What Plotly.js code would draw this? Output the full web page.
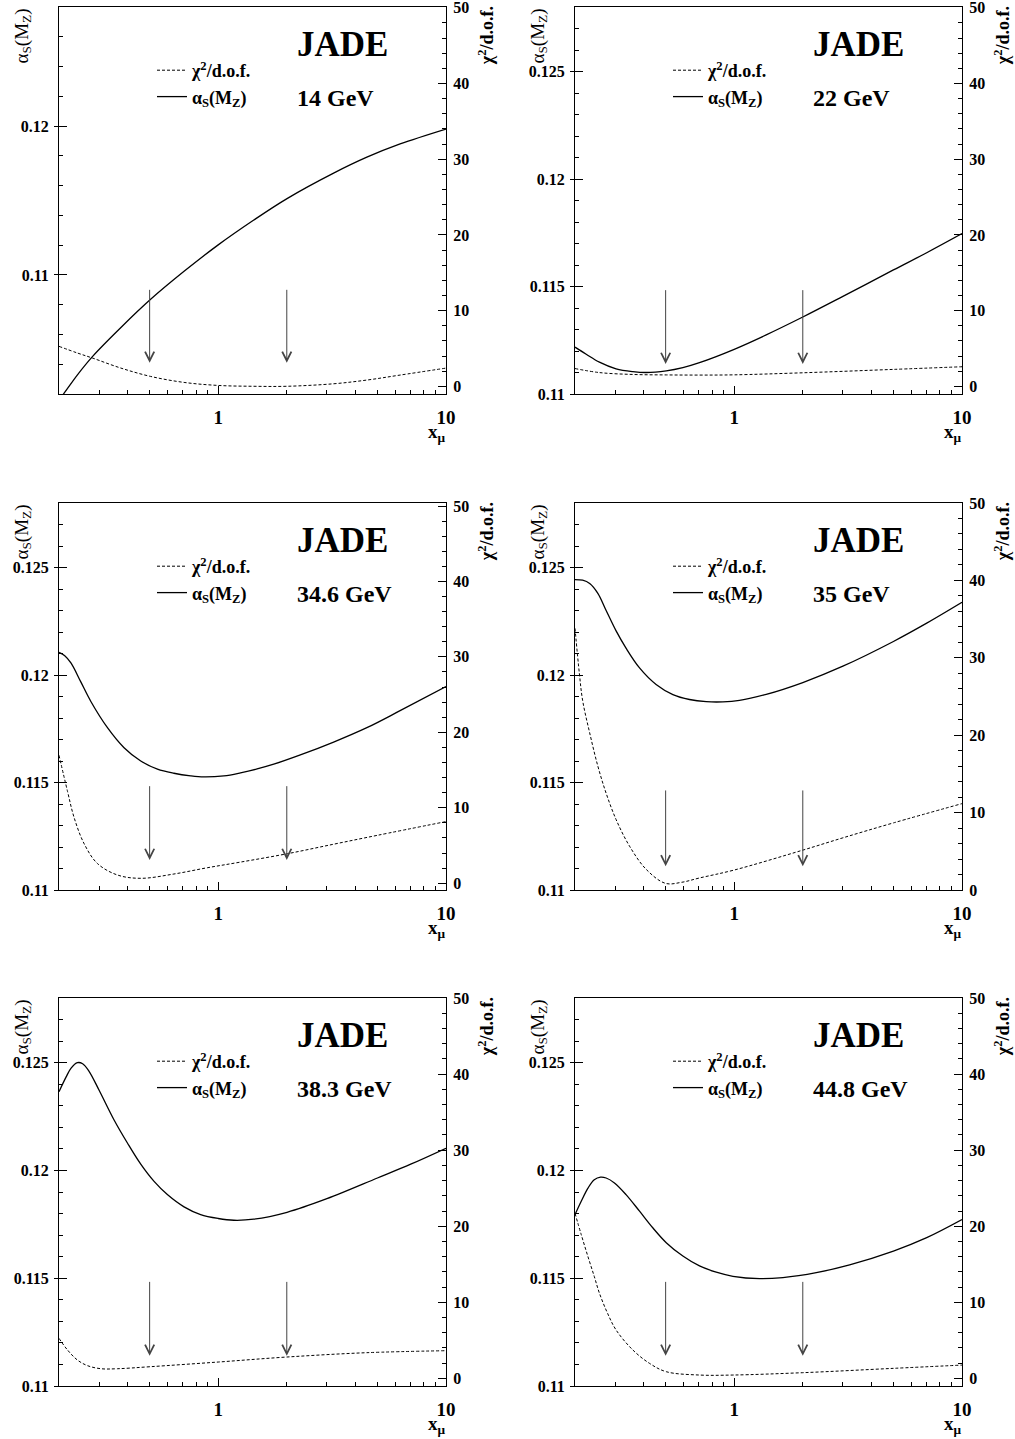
<!DOCTYPE html>
<html><head><meta charset="utf-8">
<script src="https://cdn.plot.ly/plotly-3.0.1.min.js"></script>
<style>html,body{margin:0;padding:0;background:#fff}#chart{width:1015px;height:1439px}</style>
</head><body><div id="chart"></div>
<script>
// ---------------- data ----------------
const energyLabels = ['14 GeV', '22 GeV', '34.6 GeV', '35 GeV', '38.3 GeV', '44.8 GeV'];

// alpha_s(M_Z) vs x_mu (solid curves)
const asX1 = [0.2, 0.211, 0.241, 0.281, 0.374, 0.505, 0.708, 1, 1.433, 2.005, 3.211, 4.494, 6.288, 10];
const asY1 = [0.10158, 0.10207, 0.10329, 0.10453, 0.10647, 0.10836, 0.11024, 0.11202, 0.11369, 0.11513, 0.11684, 0.11791, 0.11880, 0.11980];
const asX2 = [0.2, 0.224, 0.256, 0.303, 0.359, 0.411, 0.503, 0.595, 0.704, 1, 1.382, 2, 3, 5, 7, 10];
const asY2 = [0.11218, 0.11185, 0.11148, 0.11117, 0.11104, 0.11100, 0.11108, 0.11123, 0.11146, 0.11208, 0.11275, 0.11358, 0.11454, 0.11577, 0.11657, 0.11746];
const asX3 = [0.2, 0.212, 0.226, 0.249, 0.276, 0.327, 0.386, 0.457, 0.541, 0.639, 0.757, 0.865, 1.059, 1.253, 1.482, 1.753, 2.294, 3.211, 4.494, 6.288, 10];
const asY3 = [0.12105, 0.12090, 0.12055, 0.11969, 0.11877, 0.11754, 0.11662, 0.11600, 0.11562, 0.11543, 0.11531, 0.11526, 0.11531, 0.11545, 0.11563, 0.11585, 0.11628, 0.11688, 0.11755, 0.11834, 0.11946];
const asX4 = [0.2, 0.216, 0.232, 0.252, 0.274, 0.303, 0.335, 0.384, 0.454, 0.538, 0.636, 0.754, 0.892, 1.055, 1.382, 2, 3, 5, 7, 10];
const asY4 = [0.12444, 0.12441, 0.12426, 0.12380, 0.12300, 0.12205, 0.12125, 0.12033, 0.11956, 0.11909, 0.11886, 0.11876, 0.11875, 0.11882, 0.11910, 0.11965, 0.12041, 0.12156, 0.12241, 0.12338];
const asX5 = [0.2, 0.215, 0.226, 0.241, 0.254, 0.271, 0.300, 0.349, 0.400, 0.457, 0.523, 0.598, 0.708, 0.837, 1, 1.171, 1.433, 2.005, 3, 5, 7, 10];
const asY5 = [0.12365, 0.12434, 0.12475, 0.12500, 0.12495, 0.12460, 0.12372, 0.12234, 0.12126, 0.12029, 0.11949, 0.11888, 0.11831, 0.11795, 0.11777, 0.11769, 0.11774, 0.11806, 0.11869, 0.11965, 0.12029, 0.12103];
const asX6 = [0.2, 0.213, 0.228, 0.243, 0.259, 0.274, 0.298, 0.335, 0.384, 0.439, 0.503, 0.595, 0.704, 0.834, 0.987, 1.292, 1.636, 2.292, 3.211, 5, 7, 10];
const asY6 = [0.11795, 0.11857, 0.11918, 0.11957, 0.11969, 0.11965, 0.11942, 0.11888, 0.11811, 0.11734, 0.11665, 0.11603, 0.11557, 0.11528, 0.11509, 0.11498, 0.11503, 0.11526, 0.11562, 0.11626, 0.11688, 0.11772];

// chi^2/d.o.f. vs x_mu (dashed curves)
const chiX1 = [0.2, 0.241, 0.281, 0.374, 0.505, 0.708, 1, 1.433, 2.005, 3.211, 4.494, 6.288, 10];
const chiY1 = [5.29, 4.41, 3.74, 2.42, 1.32, 0.53, 0.13, 0.02, 0.02, 0.35, 0.84, 1.50, 2.42];
const chiX2 = [0.2, 0.256, 0.359, 0.503, 0.704, 1, 2, 5, 10];
const chiY2 = [2.36, 1.83, 1.58, 1.52, 1.50, 1.53, 1.80, 2.25, 2.60];
const chiX3 = [0.2, 0.218, 0.233, 0.258, 0.295, 0.361, 0.457, 0.639, 0.895, 1.253, 2.012, 3.211, 5, 10];
const chiY3 = [16.96, 12.17, 8.70, 5.22, 2.61, 1.09, 0.65, 1.22, 2.05, 2.80, 3.91, 5.17, 6.35, 8.17];
const chiX4 = [0.2, 0.209, 0.216, 0.232, 0.252, 0.274, 0.303, 0.347, 0.411, 0.499, 0.589, 0.703, 1, 2, 3, 5, 10];
const chiY4 = [33.8, 28.0, 24.5, 20.3, 16.0, 12.5, 9.1, 5.67, 2.66, 0.86, 1.00, 1.55, 2.58, 5.15, 6.74, 8.67, 11.16];
const chiX5 = [0.2, 0.218, 0.241, 0.267, 0.306, 0.361, 0.505, 1, 2.005, 4.494, 10];
const chiY5 = [5.26, 3.73, 2.41, 1.67, 1.27, 1.27, 1.54, 2.15, 2.81, 3.38, 3.64];
const chiX6 = [0.2, 0.213, 0.228, 0.243, 0.256, 0.278, 0.303, 0.359, 0.425, 0.503, 0.704, 0.987, 2, 5, 10];
const chiY6 = [21.7, 18.9, 16.0, 13.4, 11.2, 8.55, 6.36, 3.73, 1.97, 0.88, 0.44, 0.44, 0.75, 1.32, 1.75];

// arrows marking x_mu = 0.5 and 2 (alpha_s units: tail, tip)
const arrowX = [0.5, 2];
const arrowTail = [0.1091, 0.1149, 0.1149, 0.1147, 0.1149, 0.1149];
const arrowTip  = [0.1041, 0.1114, 0.1114, 0.1111, 0.1114, 0.1114];

// axes
const xRange = [0.2, 10];
const xTickVals = [1, 10];
const xTickText = ['1', '10'];
const xMinorVals = [0.3, 0.4, 0.5, 0.6, 0.7, 0.8, 0.9, 2, 3, 4, 5, 6, 7, 8, 9];
const asRanges = [[0.102, 0.128], [0.11, 0.128], [0.11, 0.128], [0.11, 0.128], [0.11, 0.128], [0.11, 0.128]];
const asTickVals1 = [0.11, 0.12];
const asTickText1 = ['0.11', '0.12'];
const asTickVals = [0.11, 0.115, 0.12, 0.125];
const asTickText = ['0.11', '0.115', '0.12', '0.125'];
const chiRanges = [[-1, 50.1], [-1, 50.1], [-0.9, 50.4], [0, 50], [-1, 50], [-1, 50]];
const chiTickVals = [0, 10, 20, 30, 40, 50];
const chiTickText = ['0', '10', '20', '30', '40', '50'];

// ---------------- build ----------------
const asX = [asX1, asX2, asX3, asX4, asX5, asX6];
const asY = [asY1, asY2, asY3, asY4, asY5, asY6];
const chiX = [chiX1, chiX2, chiX3, chiX4, chiX5, chiX6];
const chiY = [chiY1, chiY2, chiY3, chiY4, chiY5, chiY6];

const W = 1015, H = 1439;
const colPx = [[59, 446], [575, 962]];
const rowPx = [[7, 394], [503, 890], [998, 1386]];
const FONT = 'Liberation Serif, Times New Roman, serif';
const yTickFont = {family: FONT, size: 16, color: '#000', weight: 'bold'};
const xTickFont = {family: FONT, size: 19, color: '#000', weight: 'bold'};

const traces = [];
const layout = {
  width: W, height: H, margin: {l: 0, r: 0, t: 0, b: 0},
  paper_bgcolor: '#fff', plot_bgcolor: '#fff', showlegend: true,
  font: {family: FONT, color: '#000'}, annotations: []
};

for (let i = 0; i < 6; i++) {
  const n = i + 1;
  const col = colPx[i % 2], row = rowPx[Math.floor(i / 2)];
  const xs = n === 1 ? '' : String(n);
  const xName = 'x' + xs, yName = 'y' + xs, y2Name = 'y' + (n + 6), y3Name = 'y' + (n + 12);
  const legName = n === 1 ? 'legend' : 'legend' + n;
  const pw = col[1] - col[0], ph = row[1] - row[0];
  const yTV = n === 1 ? asTickVals1 : asTickVals;

  layout['xaxis' + xs] = {
    type: 'log', range: [Math.log10(xRange[0]), Math.log10(xRange[1])],
    domain: [col[0] / W, col[1] / W], anchor: yName,
    showline: true, linecolor: '#000', linewidth: 1, mirror: true,
    showgrid: false, zeroline: false,
    tickmode: 'array', tickvals: xTickVals, ticktext: xTickText,
    ticks: 'inside', ticklen: 8, tickwidth: 1, tickcolor: '#000',
    minor: {tickmode: 'array', tickvals: xMinorVals, ticks: 'inside', ticklen: 4, tickwidth: 1, tickcolor: '#000', showgrid: false},
    tickfont: xTickFont, ticklabelstandoff: 6, ticklabeloverflow: 'allow', fixedrange: true
  };
  layout['yaxis' + xs] = {
    range: asRanges[i], domain: [1 - row[1] / H, 1 - row[0] / H], anchor: xName,
    showline: true, linecolor: '#000', linewidth: 1,
    showgrid: false, zeroline: false,
    tickmode: 'array', tickvals: yTV, ticktext: n === 1 ? asTickText1 : asTickText,
    ticks: 'inside', ticklen: 8, tickwidth: 1, tickcolor: '#000',
    minor: {dtick: n === 1 ? 0.002 : 0.001, tick0: 0.11, ticks: 'inside', ticklen: 4, tickwidth: 1, tickcolor: '#000', showgrid: false},
    tickfont: yTickFont, ticklabelstandoff: 6, ticklabeloverflow: 'allow', fixedrange: true
  };
  // outer stubs of the major ticks (ticks cross the left axis)
  layout['yaxis' + (n + 12)] = {
    range: asRanges[i], overlaying: yName, side: 'left', anchor: xName,
    showline: false, showgrid: false, zeroline: false, showticklabels: false,
    tickmode: 'array', tickvals: yTV,
    ticks: 'outside', ticklen: 4, tickwidth: 1, tickcolor: '#000', fixedrange: true
  };
  layout['yaxis' + (n + 6)] = {
    range: chiRanges[i], overlaying: yName, side: 'right', anchor: xName,
    showline: true, linecolor: '#000', linewidth: 1,
    showgrid: false, zeroline: false,
    tickmode: 'array', tickvals: chiTickVals, ticktext: chiTickText,
    ticks: 'inside', ticklen: 8, tickwidth: 1, tickcolor: '#000',
    minor: {dtick: 2, tick0: 0, ticks: 'inside', ticklen: 4, tickwidth: 1, tickcolor: '#000', showgrid: false},
    tickfont: yTickFont, ticklabelstandoff: 3, ticklabeloverflow: 'allow', fixedrange: true
  };

  traces.push({
    type: 'scatter', mode: 'lines', x: [], y: [], xaxis: xName, yaxis: y3Name,
    showlegend: false, hoverinfo: 'skip'
  });
  traces.push({
    type: 'scatter', mode: 'lines', x: chiX[i], y: chiY[i],
    xaxis: xName, yaxis: y2Name, legend: legName, legendgroup: 'chi' + n,
    name: 'χ<sup>2</sup>/d.o.f.',
    line: {color: '#000', width: 1, dash: '3px,2px', shape: 'spline', smoothing: 1},
    hoverinfo: 'skip'
  });
  traces.push({
    type: 'scatter', mode: 'lines', x: asX[i], y: asY[i],
    xaxis: xName, yaxis: yName, legend: legName, legendgroup: 'as' + n,
    name: 'α<sub>S</sub>(M<sub>Z</sub>)',
    line: {color: '#000', width: 1.3, shape: 'spline', smoothing: 1},
    hoverinfo: 'skip'
  });

  layout[legName] = {
    x: (col[0] + 93) / W, y: 1 - (row[0] + 45) / H, xanchor: 'left', yanchor: 'top',
    bgcolor: 'rgba(0,0,0,0)', borderwidth: 0,
    font: {family: FONT, size: 18, color: '#000', weight: 'bold'},
    itemwidth: 30, traceorder: 'grouped', tracegroupgap: 0
  };

  const xd = xName + ' domain', yd = yName + ' domain';
  const A = layout.annotations;
  A.push({xref: xd, yref: yd, x: 236 / pw, y: 1 - 37 / ph, xanchor: 'left', yanchor: 'middle', showarrow: false,
          text: 'JADE', font: {family: FONT, size: 35, color: '#000', weight: 'bold'}});
  A.push({xref: xd, yref: yd, x: 236 / pw, y: 1 - 91 / ph, xanchor: 'left', yanchor: 'middle', showarrow: false,
          text: energyLabels[i], font: {family: FONT, size: 24, color: '#000', weight: 'bold'}});
  A.push({xref: xd, yref: yd, x: -37 / pw, y: 1, xanchor: 'center', yanchor: 'top', showarrow: false, textangle: -90,
          text: 'α<sub>S</sub>(M<sub>Z</sub>)', font: {family: FONT, size: 19, color: '#000'}});
  A.push({xref: xd, yref: yd, x: 1 + 40 / pw, y: 1.006, xanchor: 'center', yanchor: 'top', showarrow: false, textangle: -90,
          text: 'χ<sup>2</sup>/d.o.f.', font: {family: FONT, size: 18, color: '#000', weight: 'bold'}});
  A.push({xref: xd, yref: yd, x: 1.005, y: -39 / ph, xanchor: 'right', yanchor: 'middle', showarrow: false,
          text: 'x<sub>μ</sub>', font: {family: FONT, size: 19, color: '#000', weight: 'bold'}});
  for (const ax of arrowX) {
    A.push({xref: xName, yref: yName, axref: xName, ayref: yName,
            x: Math.log10(ax), y: arrowTip[i], ax: Math.log10(ax), ay: arrowTail[i],
            showarrow: true, arrowhead: 5, arrowsize: 1.8, arrowwidth: 1, arrowcolor: '#444', text: ''});
  }
}

Plotly.newPlot('chart', traces, layout, {staticPlot: true, displayModeBar: false});
</script>
</body></html>
